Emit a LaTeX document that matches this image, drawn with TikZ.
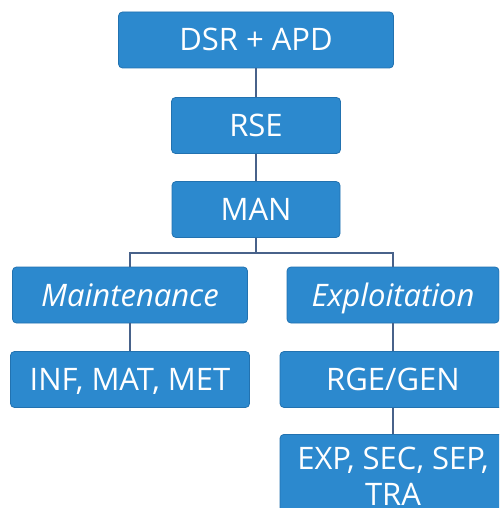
\documentclass[tikz,border=0pt]{standalone}
\usepackage{fontspec}
\setmainfont{Open Sans}
\usepackage{xcolor}
\usepackage{tikz}

\definecolor{boxblue}{RGB}{44,137,206}
\definecolor{boxedge}{RGB}{34,114,176}
\definecolor{linkgray}{RGB}{72,98,138}

\tikzset{
  box/.style={draw=boxedge, line width=0.8pt, fill=boxblue, rounded corners=4pt,
    text=white, font=\fontsize{31}{36}\selectfont, inner xsep=0pt},
  oneline/.style={box, minimum height=56pt, inner ysep=0pt, text height=22pt, text depth=0pt},
  link/.style={draw=linkgray, line width=2pt}
}

\begin{document}
\begin{tikzpicture}[x=1pt,y=-1pt]

  % Page frame, the right and bottom boxes run off it
  \useasboundingbox (0,0) rectangle (499,508);
  \clip (0,0) rectangle (499,508);

  % Trunk
  \node[oneline, minimum width=275pt] (dsr) at (256,40) {DSR + APD};
  \node[oneline, minimum width=169pt] (rse) at (256,125.5) {RSE};
  \node[oneline, minimum width=168pt] (man) at (256,209.5) {MAN};

  % Two branches
  \node[oneline, minimum width=235pt] (maint) at (130,295) {\itshape Maintenance};
  \node[oneline, minimum width=212pt] (expl) at (393,295) {\itshape Exploitation};

  % Leaves
  \node[oneline, minimum width=239pt] (inf) at (130,379.5) {INF, MAT, MET};
  \node[oneline, minimum width=226pt] (rge) at (393,379.5) {RGE/GEN};
  \node[box, minimum width=226pt, align=center, inner ysep=13pt, anchor=north]
    (exp) at (393,434) {EXP, SEC, SEP,\\TRA};

  % Connectors
  \draw[link] (dsr.south) -- (rse.north);
  \draw[link] (rse.south) -- (man.north);
  \path (man.south) ++(0,15) coordinate (fork);
  \draw[link] (man.south) -- (fork);
  \draw[link] (maint.north) |- (fork) -| (expl.north);
  \draw[link] (maint.south) -- (inf.north);
  \draw[link] (expl.south) -- (rge.north);
  \draw[link] (rge.south) -- (exp.north);

\end{tikzpicture}
\end{document}
